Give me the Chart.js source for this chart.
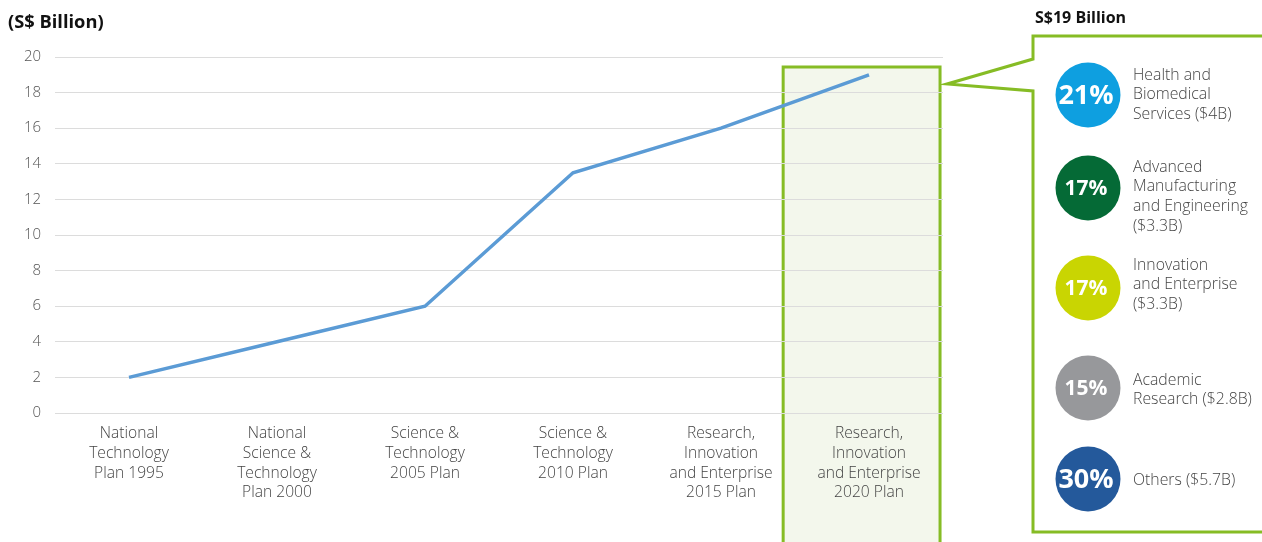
<!DOCTYPE html>
<html>
<head>
<meta charset="utf-8">
<script src="https://cdn.jsdelivr.net/npm/chart.js@4/dist/chart.umd.min.js"></script>
<style>
  html, body { margin: 0; padding: 0; background: #fff; }
  #wrap { position: relative; width: 1262px; height: 542px; overflow: hidden; }
</style>
</head>
<body>
<div id="wrap"><canvas id="plans" width="1262" height="542"></canvas></div>
<script>
// ==== DATA ====
const PLANS = [
  ['National', 'Technology', 'Plan 1995'],
  ['National', 'Science &', 'Technology', 'Plan 2000'],
  ['Science &', 'Technology', '2005 Plan'],
  ['Science &', 'Technology', '2010 Plan'],
  ['Research,', 'Innovation', 'and Enterprise', '2015 Plan'],
  ['Research,', 'Innovation', 'and Enterprise', '2020 Plan']
];
const BUDGET = [2, 4, 6, 13.5, 16, 19];
const Y_MIN = 0, Y_MAX = 20, Y_STEP = 2;
const UNIT_TITLE = '(S$ Billion)';

// 2020 plan breakdown
const TOTAL_TITLE  = 'S$19 Billion';
const SHARE_PCT    = [21, 17, 17, 15, 30];
const SHARE_LABELS = [
  ['Health and', 'Biomedical', 'Services ($4B)'],
  ['Advanced', 'Manufacturing', 'and Engineering', '($3.3B)'],
  ['Innovation', 'and Enterprise', '($3.3B)'],
  ['Academic', 'Research ($2.8B)'],
  ['Others ($5.7B)']
];
const SHARE_COLORS = ['#0e9fe0', '#056a36', '#c9d502', '#97989b', '#24599b'];

// ==== STYLE ====
const FONT   = '"Open Sans", "Noto Sans", sans-serif';
const GREEN  = '#86bc25';
const HILITE = 5; // index of the highlighted plan

// highlighted column behind the last plan
const highlightPlugin = {
  id: 'highlight',
  beforeDraw(chart) {
    const { ctx, scales: { x }, chartArea } = chart;
    const cx = x.getPixelForValue(HILITE);
    const w  = x.getPixelForValue(1) - x.getPixelForValue(0);
    const left = cx - w * 0.58, right = cx + w * 0.48;
    const top = chartArea.top + 10;
    ctx.save();
    ctx.fillStyle = '#f3f7ec';
    ctx.fillRect(left, top, right - left, chart.height - top + 5);
    ctx.strokeStyle = GREEN;
    ctx.lineWidth = 3;
    ctx.strokeRect(left, top, right - left, chart.height - top + 5);
    ctx.restore();
    chart.$hilite = { right, top };
  }
};

// callout with the 2020 breakdown, plus titles
const calloutPlugin = {
  id: 'callout',
  afterDraw(chart) {
    const { ctx } = chart;
    const h = chart.$hilite;
    const bx = 1033, by = 36, bb = 532;
    ctx.save();
    ctx.strokeStyle = GREEN;
    ctx.lineWidth = 3;
    ctx.lineJoin = 'miter';
    ctx.beginPath();
    ctx.moveTo(1270, by);
    ctx.lineTo(bx, by);
    ctx.lineTo(bx, 59);
    ctx.lineTo(h.right + 7, 84);
    ctx.lineTo(bx, 91);
    ctx.lineTo(bx, bb);
    ctx.lineTo(1270, bb);
    ctx.stroke();

    // titles
    ctx.fillStyle = '#111';
    ctx.textBaseline = 'middle';
    ctx.textAlign = 'left';
    ctx.font = 'bold 18.3px ' + FONT;
    ctx.fillText(UNIT_TITLE, 8, 23);
    ctx.font = 'bold 16px ' + FONT;
    ctx.fillText(TOTAL_TITLE, 1035, 18);

    const centers = [95, 188, 288, 388, 479];
    const textTop = [75, 167, 265, 380, 480];
    SHARE_PCT.forEach((p, i) => {
      ctx.beginPath();
      ctx.fillStyle = SHARE_COLORS[i];
      ctx.arc(1088, centers[i], 32.5, 0, Math.PI * 2);
      ctx.fill();
      ctx.fillStyle = '#fff';
      ctx.textAlign = 'center';
      ctx.font = 'bold ' + (p === 17 || p === 15 ? 21 : 27) + 'px ' + FONT;
      ctx.fillText(p + '%', 1086, centers[i] + 1);
      ctx.fillStyle = '#444';
      ctx.textAlign = 'left';
      ctx.font = '300 15.8px ' + FONT;
      SHARE_LABELS[i].forEach((line, j) => {
        ctx.fillText(line, 1133, textTop[i] + j * 19.8);
      });
    });
    ctx.restore();
  }
};

new Chart(document.getElementById('plans'), {
  type: 'line',
  data: {
    labels: PLANS,
    datasets: [{
      data: BUDGET,
      borderColor: '#5b9bd5',
      borderWidth: 3.5,
      pointRadius: 0,
      tension: 0,
      fill: false
    }]
  },
  options: {
    responsive: false,
    animation: false,
    layout: { padding: { left: 0, right: 319, top: 57, bottom: 0 } },
    plugins: { legend: { display: false }, tooltip: { enabled: false } },
    scales: {
      x: {
        offset: true,
        grid: { display: false, drawTicks: false },
        border: { display: false },
        ticks: {
          autoSkip: false, maxRotation: 0, padding: 11,
          color: '#444', font: { family: FONT, size: 15.6, weight: 300, lineHeight: 1.26 }
        },
        afterFit(s) { s.height = 129; }
      },
      y: {
        min: Y_MIN, max: Y_MAX,
        grid: { color: '#dcdcdc', lineWidth: 1, drawTicks: false },
        border: { display: false },
        ticks: {
          stepSize: Y_STEP, padding: 14,
          color: '#555', font: { family: FONT, size: 15, weight: 300 }
        },
        afterFit(s) { s.width = 55; }
      }
    }
  },
  plugins: [highlightPlugin, calloutPlugin]
});
</script>
</body>
</html>
